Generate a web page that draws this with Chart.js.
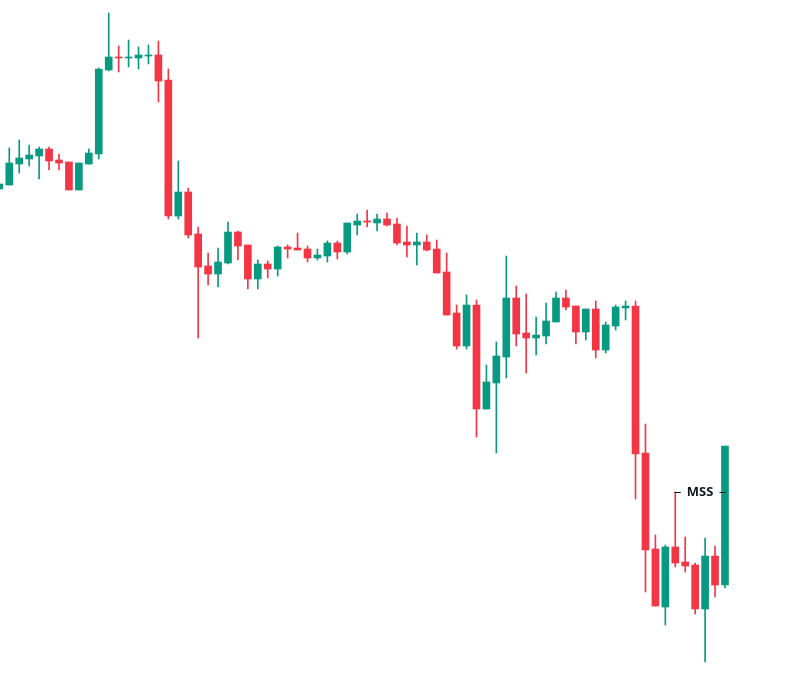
<!DOCTYPE html>
<html>
<head>
<meta charset="utf-8">
<script src="https://cdn.jsdelivr.net/npm/chart.js@4"></script>
<style>
  html, body { margin: 0; padding: 0; background: #ffffff; }
  #wrap { width: 805px; height: 678px; }
</style>
</head>
<body>
<div id="wrap"><canvas id="chart" width="805" height="678"></canvas></div>
<script>
// candle values (price units), one entry per candle
const opens = [511,515,536,541,544,551,540,538,510,536,546,630,643,642,642,644,645,620,484,508,
  466,434,426,437,468,455,421,436,431,453,452,451,442,444,457,448,475,479,477,481,
  476,458,455,458,451,428,387,354,395,291,317,343,402,367,362,364,378,402,394,368,
  391,350,374,392,394,247,151,93,153,138,135,91,144,115];
const highs = [516,552,560,555,553,553,546,538,537,551,632,687,654,660,653,655,659,631,539,512,
  473,447,452,478,469,455,440,439,454,455,467,454,451,459,459,477,486,490,486,487,
  482,474,467,465,460,447,395,405,400,335,358,444,414,406,383,397,408,410,394,391,
  399,378,395,399,399,276,165,155,208,163,137,162,154,254];
const lows = [511,515,527,534,521,530,530,510,510,536,541,629,628,633,631,636,598,481,481,462,
  362,415,413,436,440,411,411,422,424,442,450,438,440,438,441,446,465,473,469,474,
  455,443,435,449,427,385,351,351,263,291,247,322,354,327,345,356,378,390,356,360,
  342,347,370,380,201,108,94,75,133,128,86,38,103,112];
const closes = [516,537,542,545,551,539,537,510,537,547,631,643,642,643,645,645,619,484,508,465,
  433,426,438,468,454,421,436,431,453,451,450,442,445,457,448,477,479,478,481,475,
  457,455,458,450,427,385,354,395,291,318,344,402,366,362,365,379,402,393,368,391,
  350,375,393,394,246,150,94,153,137,134,91,144,115,254];

// market structure shift label
const mssLabel = 'MSS';
const mssFrom = 68;
const mssTo = 73;
const mssLevel = 208;

const upColor = '#089981';
const downColor = '#F23645';

const candleColors = opens.map((o, i) => closes[i] >= o ? upColor : downColor);
const wickData = opens.map((o, i) => ({ x: i, y: [lows[i], highs[i]] }));
const bodyData = opens.map((o, i) => ({ x: i, y: [o, closes[i]] }));

// draws the MSS line with its label in a gap
const mssPlugin = {
  id: 'mss',
  afterDatasetsDraw(chart) {
    const ctx = chart.ctx;
    const xs = chart.scales.x;
    const ys = chart.scales.y;
    const x1 = xs.getPixelForValue(mssFrom);
    const x2 = xs.getPixelForValue(mssTo);
    const y = Math.round(ys.getPixelForValue(mssLevel)) + 0.5;
    ctx.save();
    ctx.font = 'bold 13px "Noto Sans", sans-serif';
    const tw = ctx.measureText(mssLabel).width;
    const mid = (x1 + x2) / 2;
    const gap = tw / 2 + 6;
    ctx.strokeStyle = '#131722';
    ctx.lineWidth = 1;
    ctx.beginPath();
    ctx.moveTo(x1 - 1, y);
    ctx.lineTo(mid - gap, y);
    ctx.moveTo(mid + gap, y);
    ctx.lineTo(x2 + 1, y);
    ctx.stroke();
    ctx.fillStyle = '#131722';
    ctx.textAlign = 'center';
    ctx.textBaseline = 'middle';
    ctx.fillText(mssLabel, mid, y);
    ctx.restore();
  }
};

const ctx = document.getElementById('chart').getContext('2d');
new Chart(ctx, {
  type: 'bar',
  data: {
    datasets: [
      {
        label: 'wicks',
        data: wickData,
        backgroundColor: candleColors,
        barThickness: 1,
        grouped: false,
        borderWidth: 0,
        borderSkipped: false,
        order: 2
      },
      {
        label: 'bodies',
        data: bodyData,
        backgroundColor: candleColors,
        barThickness: 7,
        minBarLength: 1,
        grouped: false,
        borderWidth: 0,
        borderSkipped: false,
        order: 1
      }
    ]
  },
  options: {
    responsive: false,
    animation: false,
    devicePixelRatio: 1,
    layout: { padding: 0 },
    plugins: {
      legend: { display: false },
      tooltip: { enabled: false }
    },
    scales: {
      x: {
        type: 'linear',
        min: 0.064,
        max: 81.05,
        offset: false,
        display: false
      },
      y: {
        min: 22,
        max: 700,
        display: false
      }
    }
  },
  plugins: [mssPlugin]
});
</script>
</body>
</html>
